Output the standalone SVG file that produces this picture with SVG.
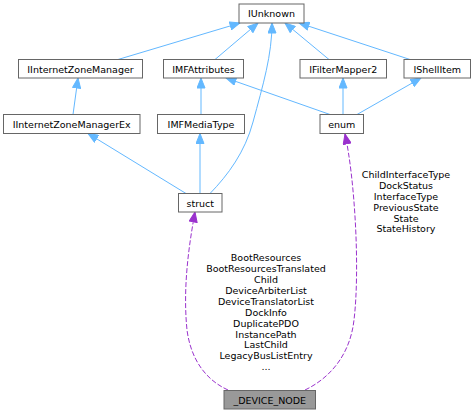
<svg xmlns="http://www.w3.org/2000/svg" width="474" height="413" viewBox="0 0 474 413">
<style>
.n rect{fill:#fff;stroke:#666;stroke-width:1}
.n text,.l{font-family:"DejaVu Sans",sans-serif;font-size:9.5px;fill:#000;text-anchor:middle}
.e{fill:none;stroke:#63b8ff;stroke-width:1}
.d{fill:none;stroke:#9a32cd;stroke-width:1;stroke-dasharray:5,2}
</style>
<defs>
<marker id="ab" markerWidth="11" markerHeight="9" refX="10.5" refY="4.5" orient="auto" markerUnits="userSpaceOnUse"><path d="M0.5,0.5 L10.5,4.5 L0.5,8.5 Z" fill="#63b8ff" stroke="#63b8ff"/></marker>
<marker id="ap" markerWidth="11" markerHeight="9" refX="10.5" refY="4.5" orient="auto" markerUnits="userSpaceOnUse"><path d="M0.5,0.5 L10.5,4.5 L0.5,8.5 Z" fill="#9a32cd" stroke="#9a32cd"/></marker>
</defs>
<g id="edges">
<path class="e" d="M118,59.5 L240,23" marker-end="url(#ab)"/>
<path class="e" d="M215,59.5 L258,23" marker-end="url(#ab)"/>
<path class="e" d="M210,193.5 C228,175 245,152 253,122 C263,85 272,55 272,23" marker-end="url(#ab)"/>
<path class="e" d="M329,59.5 L285,23" marker-end="url(#ab)"/>
<path class="e" d="M410,59.5 L299,23" marker-end="url(#ab)"/>
<path class="e" d="M73,114.5 L78,78" marker-end="url(#ab)"/>
<path class="e" d="M201,114.5 L201,78" marker-end="url(#ab)"/>
<path class="e" d="M330,114.5 L226,78" marker-end="url(#ab)"/>
<path class="e" d="M343,114.5 L343,78" marker-end="url(#ab)"/>
<path class="e" d="M357,114.5 L421,78" marker-end="url(#ab)"/>
<path class="e" d="M186,193.5 L88,133.5" marker-end="url(#ab)"/>
<path class="e" d="M200,193.5 L200,133.5" marker-end="url(#ab)"/>
<path class="d" d="M228,390 C206,380 191,360 187,330 C183,290 188,250 195,212" marker-end="url(#ap)"/>
<path class="d" d="M305,390 C330,378 350,355 354,320 C360,270 355,180 345,134" marker-end="url(#ap)"/>
</g>
<g id="IUnknown" class="n"><rect x="239" y="4" width="65" height="19"/><text x="271.5" y="17">IUnknown</text></g>
<g id="IInternetZoneManager" class="n"><rect x="18.5" y="59.5" width="124" height="18.5"/><text x="80.5" y="72.5">IInternetZoneManager</text></g>
<g id="IMFAttributes" class="n"><rect x="163.5" y="59.5" width="80" height="18.5"/><text x="203.5" y="72.5">IMFAttributes</text></g>
<g id="IFilterMapper2" class="n"><rect x="300" y="59.5" width="86.5" height="18.5"/><text x="343.25" y="72.5">IFilterMapper2</text></g>
<g id="IShellItem" class="n"><rect x="404" y="59.5" width="66.5" height="18.5"/><text x="437.25" y="72.5">IShellItem</text></g>
<g id="IInternetZoneManagerEx" class="n"><rect x="3.5" y="114.5" width="136.5" height="19"/><text x="71.75" y="127.5">IInternetZoneManagerEx</text></g>
<g id="IMFMediaType" class="n"><rect x="157.5" y="114.5" width="87" height="19"/><text x="201" y="127.5">IMFMediaType</text></g>
<g id="enum" class="n"><rect x="320" y="114.5" width="43.5" height="19"/><text x="341.75" y="127.5">enum</text></g>
<g id="struct" class="n"><rect x="178.5" y="193.5" width="43.5" height="18.5"/><text x="200.25" y="206.5">struct</text></g>
<g id="_DEVICE_NODE" class="n"><rect x="224" y="390.5" width="91.5" height="18.5" style="fill:#999"/><text x="269.75" y="403.5">_DEVICE_NODE</text></g>
<g id="labels">
<text class="l" x="406" y="178">ChildInterfaceType</text>
<text class="l" x="406" y="189">DockStatus</text>
<text class="l" x="406" y="199.5">InterfaceType</text>
<text class="l" x="406" y="210.5">PreviousState</text>
<text class="l" x="406" y="221.5">State</text>
<text class="l" x="406" y="232">StateHistory</text>
<text class="l" x="266" y="261">BootResources</text>
<text class="l" x="266" y="272">BootResourcesTranslated</text>
<text class="l" x="266" y="282.5">Child</text>
<text class="l" x="266" y="293.5">DeviceArbiterList</text>
<text class="l" x="266" y="304.5">DeviceTranslatorList</text>
<text class="l" x="266" y="315.5">DockInfo</text>
<text class="l" x="266" y="326.5">DuplicatePDO</text>
<text class="l" x="266" y="337.5">InstancePath</text>
<text class="l" x="266" y="348">LastChild</text>
<text class="l" x="266" y="359">LegacyBusListEntry</text>
<text class="l" x="266" y="370">...</text>
</g>
</svg>
